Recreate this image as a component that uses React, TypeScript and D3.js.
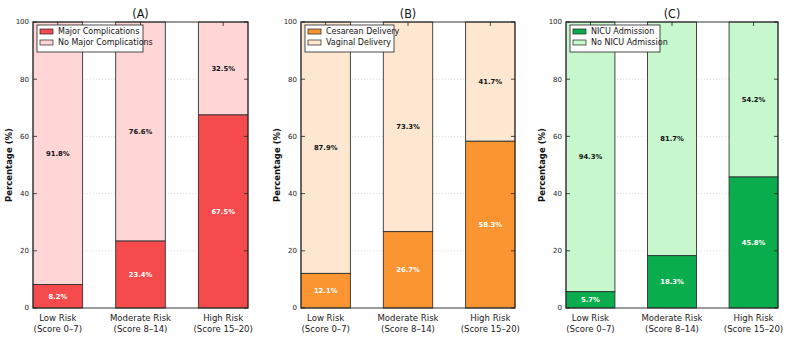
import React from "react";
import * as d3 from "d3";

const categories = ["Low Risk|(Score 0–7)", "Moderate Risk|(Score 8–14)", "High Risk|(Score 15–20)"];
const yTicks = [0, 20, 40, 60, 80, 100];

const titles = ["(A)", "(B)", "(C)"];
const seriesNamesA = ["Major Complications", "No Major Complications"];
const seriesNamesB = ["Cesarean Delivery", "Vaginal Delivery"];
const seriesNamesC = ["NICU Admission", "No NICU Admission"];
const valuesA = [8.2, 23.4, 67.5];
const valuesB = [12.1, 26.7, 58.3];
const valuesC = [5.7, 18.3, 45.8];
const restA = [91.8, 76.6, 32.5];
const restB = [87.9, 73.3, 41.7];
const restC = [94.3, 81.7, 54.2];

const panels = [
  { title: titles[0], names: seriesNamesA, vals: valuesA, rest: restA, dark: "#f54b4d", light: "#ffd6d6", left: 33, right: 248, legendW: 106 },
  { title: titles[1], names: seriesNamesB, vals: valuesB, rest: restB, dark: "#fa9532", light: "#fde7d0", left: 301, right: 515, legendW: 89 },
  { title: titles[2], names: seriesNamesC, vals: valuesC, rest: restC, dark: "#0aad4e", light: "#c6f7cd", left: 566, right: 778, legendW: 90 },
];

const TOP = 22;
const BOTTOM = 308;
const FONT = "DejaVu Sans, sans-serif";
const NARROW = "'Liberation Sans Narrow', 'DejaVu Sans Condensed', sans-serif";

function Panel({ p }: { p: typeof panels[number] }) {
  const x = d3.scaleLinear().domain([-0.3, 2.3]).range([p.left, p.right]);
  const y = d3.scaleLinear().domain([0, 100]).range([BOTTOM, TOP]);
  const bw = x(0.6) - x(0);
  const idx = d3.range(categories.length);
  return (
    <g fontFamily={FONT}>
      {yTicks.slice(1, -1).map((t) => (
        <line key={"g" + t} x1={p.left} x2={p.right} y1={y(t)} y2={y(t)} stroke="#c8c8c8" strokeWidth={0.6} strokeDasharray="1,2" />
      ))}
      {idx.map((i) => (
        <g key={"b" + i}>
          <rect x={x(i) - bw / 2} y={y(100)} width={bw} height={y(p.vals[i]) - y(100)} fill={p.light} stroke="#333" strokeWidth={0.9} />
          <rect x={x(i) - bw / 2} y={y(p.vals[i])} width={bw} height={y(0) - y(p.vals[i])} fill={p.dark} stroke="#333" strokeWidth={0.9} />
          <text x={x(i)} y={y(p.vals[i] / 2)} dy="0.35em" textAnchor="middle" fontSize={6.8} fontWeight="bold" fill="#fff">
            {p.vals[i].toFixed(1)}%
          </text>
          <text x={x(i)} y={y(p.vals[i] + p.rest[i] / 2)} dy="0.35em" textAnchor="middle" fontSize={6.8} fontWeight="bold" fill="#111">
            {p.rest[i].toFixed(1)}%
          </text>
        </g>
      ))}
      <rect x={p.left} y={TOP} width={p.right - p.left} height={BOTTOM - TOP} fill="none" stroke="#222" strokeWidth={0.9} />
      {yTicks.map((t) => (
        <g key={"t" + t}>
          <line x1={p.left} x2={p.left + 4} y1={y(t)} y2={y(t)} stroke="#222" strokeWidth={0.8} />
          <line x1={p.right} x2={p.right - 4} y1={y(t)} y2={y(t)} stroke="#222" strokeWidth={0.8} />
          <text x={p.left - 4} y={y(t)} dy="0.35em" textAnchor="end" fontSize={7} fill="#222">
            {t}
          </text>
        </g>
      ))}
      {idx.map((i) => {
        const [l1, l2] = categories[i].split("|");
        return (
          <g key={"x" + i}>
            <line x1={x(i)} x2={x(i)} y1={TOP} y2={TOP + 4} stroke="#222" strokeWidth={0.8} />
            <text x={x(i)} y={321} textAnchor="middle" fontSize={9.5} fontFamily={NARROW} fill="#222">{l1}</text>
            <text x={x(i)} y={331.5} textAnchor="middle" fontSize={9.5} fontFamily={NARROW} fill="#222">{l2}</text>
          </g>
        );
      })}
      <text x={(p.left + p.right) / 2} y={18} textAnchor="middle" fontSize={12.5} fontFamily={NARROW} fill="#111">{p.title}</text>
      <text transform={`translate(${p.left - 21},${(TOP + BOTTOM) / 2}) rotate(-90)`} textAnchor="middle" fontSize={8.5} fontWeight="bold" fill="#111">
        Percentage (%)
      </text>
      <g transform={`translate(${p.left + 4},25)`}>
        <rect x={0} y={0} width={p.legendW} height={27} fill="#fff" stroke="#222" strokeWidth={0.8} />
        {[p.dark, p.light].map((c, k) => (
          <g key={"l" + k}>
            <rect x={3} y={4 + k * 11} width={13} height={5} fill={c} stroke="#222" strokeWidth={0.7} />
            <text x={21} y={6.5 + k * 11} dy="0.35em" fontSize={8} fill="#111">{p.names[k]}</text>
          </g>
        ))}
      </g>
    </g>
  );
}

export default function App() {
  return (
    <svg width={787} height={337} style={{ position: "absolute", left: 0, top: 0, background: "#fff" }}>
      <rect width={787} height={337} fill="#fff" />
      {panels.map((p, i) => (
        <Panel key={i} p={p} />
      ))}
    </svg>
  );
}
